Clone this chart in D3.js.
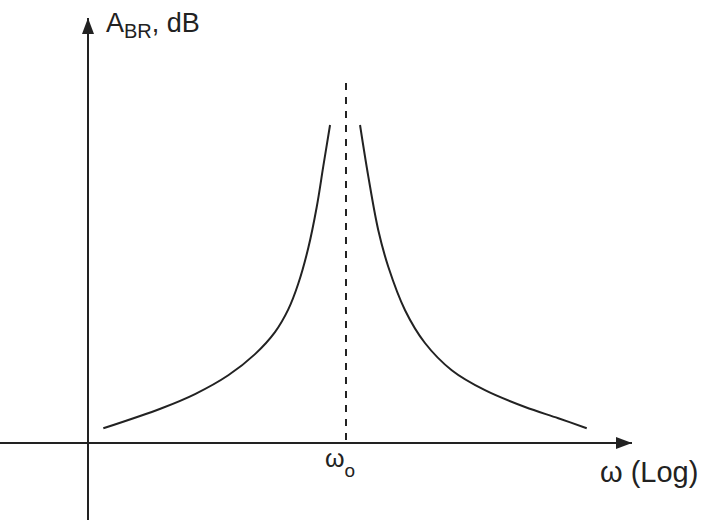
<!DOCTYPE html>
<html>
<head>
<meta charset="utf-8">
<script src="https://cdn.jsdelivr.net/npm/d3@7"></script>
<style>
  html, body { margin: 0; padding: 0; background: #fff; }
  svg { display: block; }
  text { font-family: "Liberation Sans", Arial, sans-serif; fill: #222; }
</style>
</head>
<body>
<svg id="chart" width="709" height="520"></svg>
<script>
// Band-reject response magnitude around the centre frequency (log frequency axis).
// Lower branch: frequencies below ω0
const lowOmega = [0.0095, 0.0291, 0.0552, 0.1045, 0.1746, 0.2559, 0.3304, 0.3999, 0.4853, 0.5702, 0.6471, 0.7362];
const lowDb    = [1.84,   4.35,   6.12,   8.47,   11.11,  13.86,  16.7,   19.9,   24.4,   29.5,   34.6,   39.75];
// Upper branch: frequencies above ω0
const highOmega = [1.309, 1.535, 1.858, 2.254, 3.105, 4.550, 7.603, 14.39, 31.05, 58.75, 101.4];
const highDb    = [39.75, 33.3,  26.6,  22.0,  16.6,  12.5,  9.1,   6.6,   4.5,   3.1,   1.84];
// Centre frequency and the height of its marker
const centreOmega = 1;
const markerDb = 45;
// Axis labels
const yLabelMain = "A";
const yLabelSub = "BR";
const yLabelRest = ", dB";
const xLabel = "ω (Log)";
const centreLabelMain = "ω";
const centreLabelSub = "o";

const svg = d3.select("#chart");
const ink = "#222";

// Scales: log frequency horizontally, dB vertically
const x = d3.scaleLog().domain([0.01, 100]).range([106, 586]);
const y = d3.scaleLinear().domain([0, 50]).range([443, 43]);

const axisX0 = 88;          // position of the vertical axis
const axisY0 = y(0);        // position of the horizontal axis

// Arrow marker for the axes
const defs = svg.append("defs");
defs.append("marker")
  .attr("id", "arrow")
  .attr("viewBox", "0 0 16 12")
  .attr("refX", 16).attr("refY", 6)
  .attr("markerWidth", 16).attr("markerHeight", 12)
  .attr("markerUnits", "userSpaceOnUse")
  .attr("orient", "auto")
  .append("path")
  .attr("d", "M0,0 L16,6 L0,12 Z")
  .attr("fill", ink);

// Horizontal axis
svg.append("line")
  .attr("x1", 0).attr("y1", axisY0)
  .attr("x2", 632).attr("y2", axisY0)
  .attr("stroke", ink).attr("stroke-width", 2)
  .attr("marker-end", "url(#arrow)");

// Vertical axis
svg.append("line")
  .attr("x1", axisX0).attr("y1", 520)
  .attr("x2", axisX0).attr("y2", 18)
  .attr("stroke", ink).attr("stroke-width", 2)
  .attr("marker-end", "url(#arrow)");

// Centre-frequency marker
svg.append("line")
  .attr("x1", x(centreOmega)).attr("y1", y(markerDb))
  .attr("x2", x(centreOmega)).attr("y2", axisY0)
  .attr("stroke", ink).attr("stroke-width", 2)
  .attr("stroke-dasharray", "7,7");

// Response branches
const line = d3.line()
  .x(d => x(d[0]))
  .y(d => y(d[1]))
  .curve(d3.curveCatmullRom.alpha(0.5));

const branches = [
  d3.zip(lowOmega, lowDb),
  d3.zip(highOmega, highDb)
];

svg.selectAll("path.branch")
  .data(branches)
  .join("path")
  .attr("class", "branch")
  .attr("d", line)
  .attr("fill", "none")
  .attr("stroke", ink)
  .attr("stroke-width", 2);

// Vertical axis title
const yt = svg.append("text")
  .attr("x", 106).attr("y", 32)
  .attr("font-size", 27);
yt.append("tspan").text(yLabelMain);
yt.append("tspan").attr("font-size", 20).attr("dy", 6).text(yLabelSub);
yt.append("tspan").attr("dy", -6).text(yLabelRest);

// Horizontal axis title
svg.append("text")
  .attr("x", 600).attr("y", 482)
  .attr("font-size", 29)
  .text(xLabel);

// Centre frequency label
const ct = svg.append("text")
  .attr("x", x(centreOmega) - 21).attr("y", 467)
  .attr("font-size", 25);
ct.append("tspan").text(centreLabelMain);
ct.append("tspan").attr("font-size", 19).attr("dy", 10).text(centreLabelSub);
</script>
</body>
</html>
